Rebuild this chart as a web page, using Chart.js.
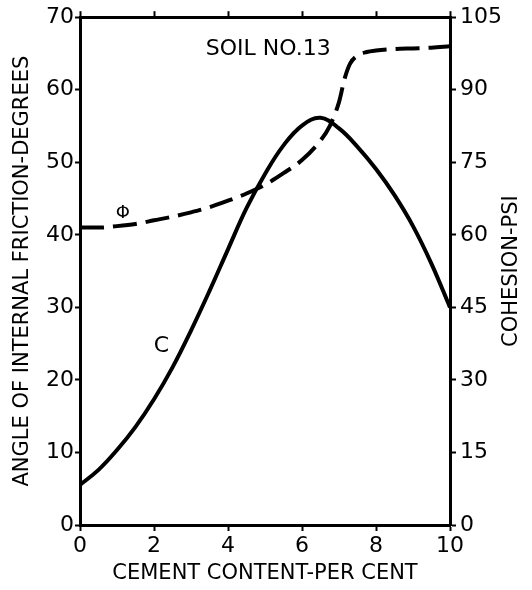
<!DOCTYPE html>
<html>
<head>
<meta charset="utf-8">
<script src="https://cdn.jsdelivr.net/npm/chart.js@4"></script>
<style>
  html, body { margin: 0; padding: 0; background: #fff; }
  #wrap { width: 532px; height: 590px; }
</style>
</head>
<body>
<div id="wrap"><canvas id="chart" width="532" height="590"></canvas></div>
<script>
// cement content, per cent
const cementPct = [0, 0.5, 1, 1.5, 2, 2.5, 3, 3.5, 4, 4.5, 5, 5.5, 6, 6.5, 7, 7.5, 8, 8.5, 9, 9.5, 10];

// angle of internal friction (degrees) - dashed curve, left axis
const phiCement = [0, 0.5, 1, 1.5, 2, 2.5, 3, 3.5, 4, 4.5, 5, 5.5, 6, 6.5, 6.75, 7, 7.15, 7.3, 7.5, 7.75, 8, 8.5, 9, 9.5, 10];
const phiDeg = [41, 41, 41.2, 41.5, 42, 42.5, 43.1, 43.8, 44.7, 45.7, 46.9, 48.5, 50.3, 53, 55, 58.3, 61.5, 63.6, 64.7, 65.2, 65.4, 65.6, 65.7, 65.8, 66];

// cohesion (psi) - solid curve, right axis
const cohesionPsi = [8.3, 11.4, 15.5, 20.3, 26, 32.6, 40.2, 48.4, 57, 65.5, 72.6, 78.5, 82.6, 84.2, 82, 78.2, 73.6, 68.2, 61.8, 54, 45];

// tick settings
const xTicks = { min: 0, max: 10, step: 2 };
const degTicks = { min: 0, max: 70, step: 10 };
const psiTicks = { min: 0, max: 105, step: 15 };

// labels placed on the chart (data coordinates, degrees axis)
const notes = [
  { text: "SOIL NO.13", x: 3.4, y: 65.6, size: 22 },
  { text: "Φ", x: 1.16, y: 43.0, size: 18 },
  { text: "C", x: 2.2, y: 24.7, size: 22 }
];

const FONT = "'DejaVu Sans', sans-serif";
const TITLE_SIZE = 21;

const notesPlugin = {
  id: "notes",
  afterDatasetsDraw(chart) {
    const { ctx, scales, chartArea } = chart;
    ctx.save();
    ctx.fillStyle = "#000";
    ctx.textBaseline = "middle";
    notes.forEach(n => {
      ctx.font = n.size + "px " + FONT;
      ctx.textAlign = n.text.length > 2 ? "left" : "center";
      ctx.fillText(n.text, scales.x.getPixelForValue(n.x), scales.y.getPixelForValue(n.y));
    });
    // right axis title reads bottom to top, like the left one
    const r = scales.y2;
    ctx.translate(r.right - 20, (chartArea.top + chartArea.bottom) / 2);
    ctx.rotate(-Math.PI / 2);
    ctx.textAlign = "center";
    ctx.font = TITLE_SIZE + "px " + FONT;
    ctx.fillText("COHESION-PSI", 0, 0);
    ctx.restore();
  }
};

const tickFont = { family: FONT, size: 22 };
const titleFont = { family: FONT, size: TITLE_SIZE };

new Chart(document.getElementById("chart"), {
  type: "line",
  data: {
    datasets: [
      {
        label: "phi",
        data: phiCement.map((c, i) => ({ x: c, y: phiDeg[i] })),
        yAxisID: "y",
        borderColor: "#000",
        borderWidth: 4,
        borderDash: [24, 9],
        pointRadius: 0,
        cubicInterpolationMode: "monotone",
        fill: false
      },
      {
        label: "C",
        data: cementPct.map((c, i) => ({ x: c, y: cohesionPsi[i] })),
        yAxisID: "y2",
        borderColor: "#000",
        borderWidth: 4,
        pointRadius: 0,
        tension: 0.4,
        fill: false
      }
    ]
  },
  options: {
    responsive: false,
    animation: false,
    layout: { padding: 0 },
    plugins: { legend: { display: false }, tooltip: { enabled: false } },
    scales: {
      x: {
        type: "linear",
        position: "bottom",
        min: xTicks.min, max: xTicks.max,
        afterFit: s => { s.height = 65; },
        border: { color: "#000", width: 3 },
        grid: { drawOnChartArea: false, color: "#000", tickLength: 6, tickWidth: 2 },
        ticks: { stepSize: xTicks.step, color: "#000", font: tickFont, padding: 2 },
        title: { display: true, text: "CEMENT CONTENT-PER CENT", color: "#000", font: titleFont, padding: { top: 0 } }
      },
      xTop: {
        type: "linear",
        position: "top",
        min: xTicks.min, max: xTicks.max,
        afterFit: s => { s.height = 15; },
        border: { color: "#000", width: 3 },
        grid: { drawOnChartArea: false, color: "#000", tickLength: 6, tickWidth: 2 },
        ticks: { stepSize: xTicks.step, display: false }
      },
      y: {
        position: "left",
        min: degTicks.min, max: degTicks.max,
        afterFit: s => { s.width = 80; },
        border: { color: "#000", width: 3 },
        grid: { drawOnChartArea: false, color: "#000", tickLength: 5, tickWidth: 2 },
        ticks: { stepSize: degTicks.step, color: "#000", font: tickFont, padding: 1 },
        title: { display: true, text: "ANGLE OF INTERNAL FRICTION-DEGREES", color: "#000", font: titleFont, padding: { top: 10, bottom: 0 } }
      },
      y2: {
        position: "right",
        min: psiTicks.min, max: psiTicks.max,
        afterFit: s => { s.width = 82; },
        border: { color: "#000", width: 3 },
        grid: { drawOnChartArea: false, color: "#000", tickLength: 6, tickWidth: 2 },
        ticks: { stepSize: psiTicks.step, color: "#000", font: tickFont, padding: 4 },
        title: { display: false }
      }
    }
  },
  plugins: [notesPlugin]
});
</script>
</body>
</html>
